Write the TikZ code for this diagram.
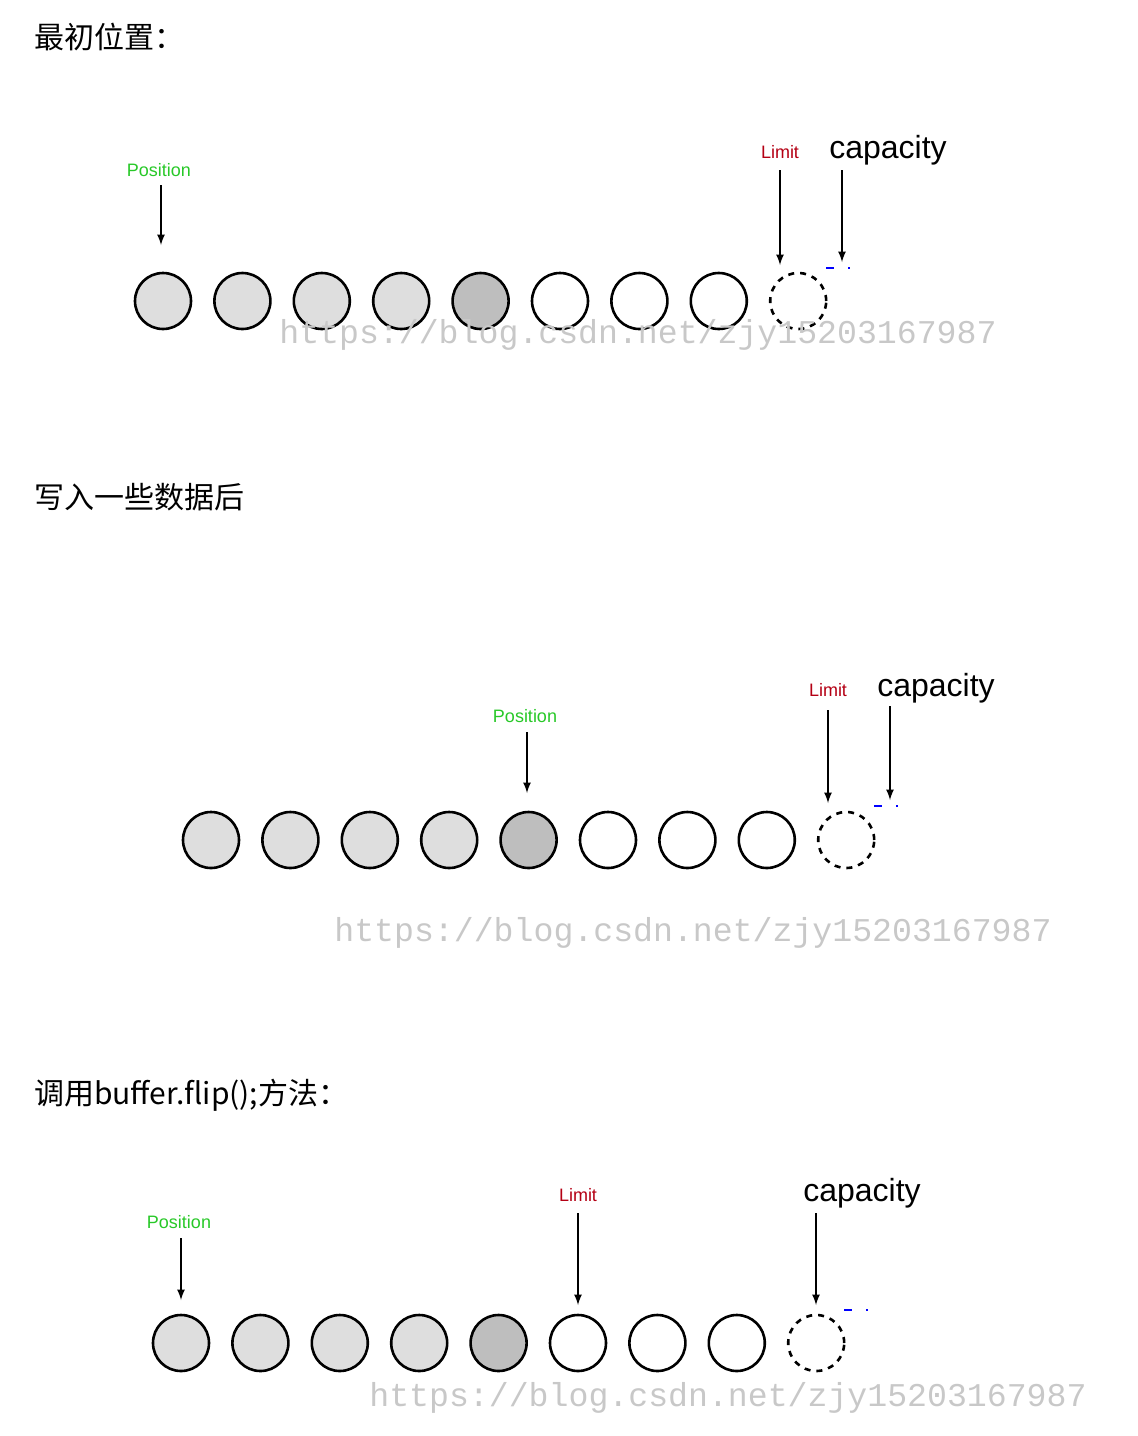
\documentclass[tikz,border=0pt]{standalone}
\usepackage{fontspec}
\setmainfont{Liberation Serif}
\newfontfamily\cjk{Noto Sans CJK SC}
\newfontfamily\sans{Liberation Sans}
\newfontfamily\wmfont{Liberation Mono}
\definecolor{lightc}{RGB}{222,222,222}
\definecolor{darkc}{RGB}{190,190,190}
\definecolor{posg}{RGB}{40,200,40}
\definecolor{limr}{RGB}{180,0,20}
\definecolor{wm}{RGB}{200,200,200}
\begin{document}
\begin{tikzpicture}[x=0.5pt,y=-0.5pt,
  cell/.style={circle,draw=black,line width=1.3pt,minimum size=28pt,inner sep=0pt},
  full/.style={cell,fill=lightc},
  cur/.style={cell,fill=darkc},
  empty/.style={cell,fill=white},
  dashcell/.style={cell,dashed,fill=white},
  poslab/.style={font=\sans\fontsize{9}{10}\selectfont,text=posg},
  limlab/.style={font=\sans\fontsize{9}{10}\selectfont,text=limr},
  caplab/.style={font=\sans\fontsize{16}{18}\selectfont},
  head/.style={font=\cjk\fontsize{15}{18}\selectfont,anchor=west},
  wmark/.style={font=\wmfont\fontsize{16.6}{20}\selectfont,text=wm},
  arr/.style={-latex,line width=0.8pt}]
\useasboundingbox (0,0) rectangle (1138,1436);
\node[head] (h1) at (27,37) {最初位置：};
\node[head] (h2) at (27,497) {写入一些数据后};
\node[head] (h3) at (27,1095) {调用buffer.flip();方法：};
\foreach \r/\x/\y in {a/163/301,b/211/840,c/181/1343}{
  \foreach \i/\s in {0/full,1/full,2/full,3/full,4/cur,5/empty,6/empty,7/empty,8/dashcell}{
    \node[\s] (\r\i) at ({\x+\i*79.4},\y) {};
  }
}
\node[wmark] (w1) at (638,335) {https://blog.csdn.net/zjy15203167987};
\node[wmark] (w2) at (693,933) {https://blog.csdn.net/zjy15203167987};
\node[wmark] (w3) at (728,1398) {https://blog.csdn.net/zjy15203167987};
% row 1
\node[poslab] (p1) at (159,170) {Position};
\coordinate (p1s) at (161,185); \coordinate (p1e) at (161,245); \draw[arr] (p1s) -- (p1e);
\node[limlab] (l1) at (780,152) {Limit};
\coordinate (l1s) at (780,170); \coordinate (l1e) at (780,265); \draw[arr] (l1s) -- (l1e);
\node[caplab] (c1) at (888,150) {capacity};
\coordinate (c1s) at (842,170); \coordinate (c1e) at (842,262); \draw[arr] (c1s) -- (c1e);
\draw[blue,line width=0.8pt] (826,268)--(834,268) (848,268)--(850,268);
% row 2
\node[poslab] (p2) at (525,716) {Position};
\coordinate (p2s) at (527,732); \coordinate (p2e) at (527,793); \draw[arr] (p2s) -- (p2e);
\node[limlab] (l2) at (828,690) {Limit};
\coordinate (l2s) at (828,710); \coordinate (l2e) at (828,803); \draw[arr] (l2s) -- (l2e);
\node[caplab] (c2) at (936,688) {capacity};
\coordinate (c2s) at (890,706); \coordinate (c2e) at (890,800); \draw[arr] (c2s) -- (c2e);
\draw[blue,line width=0.8pt] (874,806)--(882,806) (896,806)--(898,806);
% row 3
\node[poslab] (p3) at (179,1222) {Position};
\coordinate (p3s) at (181,1238); \coordinate (p3e) at (181,1300); \draw[arr] (p3s) -- (p3e);
\node[limlab] (l3) at (578,1195) {Limit};
\coordinate (l3s) at (578,1213); \coordinate (l3e) at (578,1305); \draw[arr] (l3s) -- (l3e);
\node[caplab] (c3) at (862,1193) {capacity};
\coordinate (c3s) at (816,1213); \coordinate (c3e) at (816,1305); \draw[arr] (c3s) -- (c3e);
\draw[blue,line width=0.8pt] (844,1310)--(852,1310) (866,1310)--(868,1310);
\end{tikzpicture}
\end{document}
